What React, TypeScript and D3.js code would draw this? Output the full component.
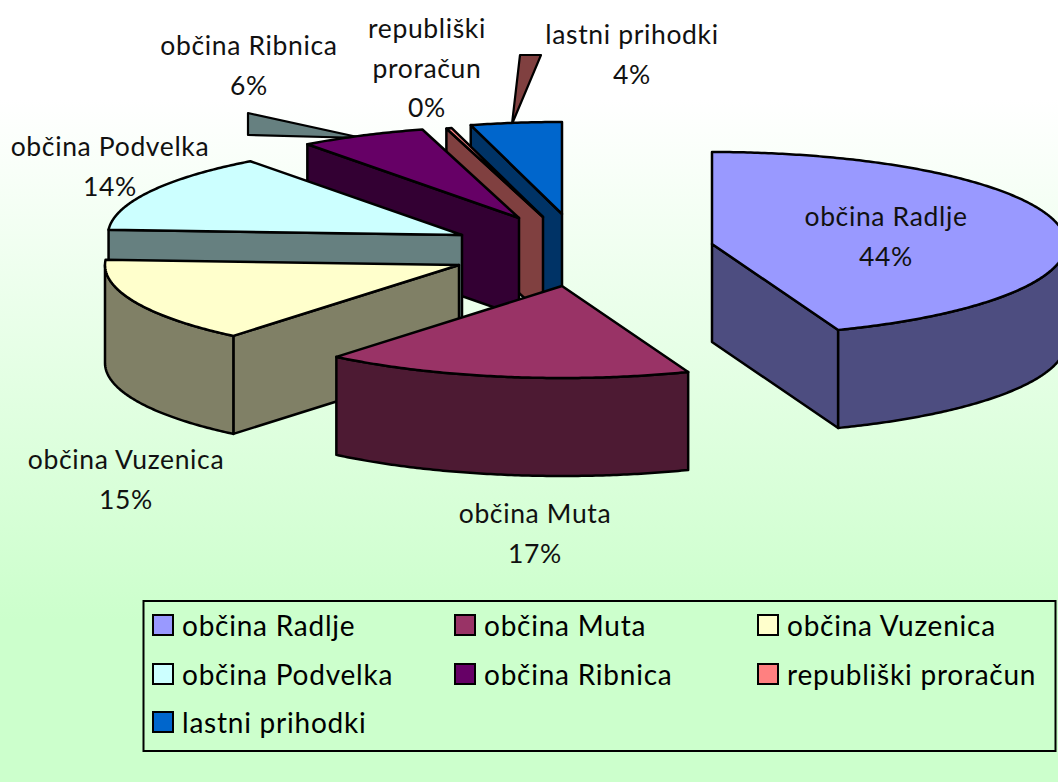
import React from "react";
import * as d3 from "d3";

const categories = ["občina Radlje", "občina Muta", "občina Vuzenica", "občina Podvelka", "občina Ribnica", "republiški proračun", "lastni prihodki"];
const values = [44.2, 16.8, 14.9, 13.9, 5.8, 0.25, 4.15];
const percentLabels = ["44%", "17%", "15%", "14%", "6%", "0%", "4%"];

const topColors = ["#9999ff", "#993366", "#ffffcc", "#ccffff", "#660066", "#ff8080", "#0066cc"];
const wallColors = ["#4d4d80", "#4d1a33", "#808066", "#668080", "#330033", "#804040", "#003366"];

// layout only
const W = 1058, H = 782;
const RX = 354, RY = 92, DEPTH = 98;
const centers: [number, number][] = [[712, 244], [562, 286], [459, 265], [462, 235], [519, 218], [543, 217], [562, 214]];
const labelAnchors: [number, number][] = [[886, 226], [535, 523], [126, 469], [110, 156], [249, 55], [427, 38], [632, 44]];
const labelBreaks: Record<string, string[]> = { "republiški proračun": ["republiški", "proračun"] };
const FONT = "Lato, 'Open Sans', sans-serif";

const pie = d3.pie<number>().sort(null).value((d) => d)(values);

type Pt = [number, number];

function rimScale(i: number) {
  const [cx, cy] = centers[i];
  const x = d3.scaleLinear().domain([-1, 1]).range([cx - RX, cx + RX]);
  const y = d3.scaleLinear().domain([-1, 1]).range([cy - RY, cy + RY]);
  return (a: number): Pt => [x(Math.sin(a)), y(-Math.cos(a))];
}
const lineGen = d3.line<Pt>().x((d) => d[0]).y((d) => d[1]);
const closed = (pts: Pt[]) => lineGen(pts) + "Z";
const down = (p: Pt): Pt => [p[0], p[1] + DEPTH];
const arcPts = (i: number, a: number, b: number): Pt[] => {
  const rim = rimScale(i);
  const n = Math.max(2, Math.ceil(Math.abs(b - a) / 0.01));
  return d3.range(n + 1).map((k) => rim(a + ((b - a) * k) / n));
};

function Slice({ i }: { i: number }) {
  const { startAngle: a, endAngle: b } = pie[i];
  const c = centers[i];
  const rim = rimScale(i);
  const wall = wallColors[i];
  const faces: string[] = [];
  if (Math.sin(a) < 0) faces.push(closed([c, rim(a), down(rim(a)), down(c)]));
  if (Math.sin(b) > 0) faces.push(closed([c, rim(b), down(rim(b)), down(c)]));
  const lo = Math.max(a, Math.PI / 2), hi = Math.min(b, (3 * Math.PI) / 2);
  if (hi > lo) {
    const top = arcPts(i, lo, hi);
    faces.push(closed([...top, ...top.map(down).reverse()]));
  }
  return (
    <g stroke="#000" strokeWidth={2.5} strokeLinejoin="round">
      {faces.map((d, k) => <path key={k} d={d} fill={wall} />)}
      <path d={closed([c, ...arcPts(i, a, b)])} fill={topColors[i]} />
    </g>
  );
}

// stray shards that the original renderer left behind the back slices
function Shards() {
  const grey = centers[3];
  const brown = centers[5];
  const g: Pt[] = [[grey[0] - 214, grey[1] - 122], [grey[0] - 214, grey[1] - 100], [grey[0] - 100, grey[1] - 97]];
  const b: Pt[] = [[brown[0] - 31, brown[1] - 93], [brown[0] - 23, brown[1] - 162], [brown[0] - 2, brown[1] - 162]];
  return (
    <g stroke="#000" strokeWidth={2.2} strokeLinejoin="round">
      <path d={closed(g)} fill={wallColors[3]} />
      <path d={closed(b)} fill={wallColors[5]} />
    </g>
  );
}

const legendCols = [153, 455, 758];
const legendRows = [615, 664, 712];

export default function App() {
  return (
    <svg width={W} height={H} viewBox={`0 0 ${W} ${H}`} style={{ position: "absolute", left: 0, top: 0, overflow: "hidden" }} fontFamily={FONT}>
      <defs>
        <linearGradient id="bg" x1="0" y1="0" x2="0" y2={H} gradientUnits="userSpaceOnUse">
          <stop offset={100 / H} stopColor="#ffffff" />
          <stop offset={620 / H} stopColor="#ccffcc" />
        </linearGradient>
      </defs>
      <rect width={W} height={H} fill="url(#bg)" />
      <Shards />
      {[6, 5, 4, 3, 2, 1, 0].map((i) => <Slice key={i} i={i} />)}
      {categories.map((c, i) => {
        const lines = [...(labelBreaks[c] ?? [c]), percentLabels[i]];
        const [x, y] = labelAnchors[i];
        return (
          <g key={c} fontSize={26.5} letterSpacing={0.65} textAnchor="middle" fill="#111">
            {lines.map((t, k) => <text key={k} x={x} y={y + k * 39.5}>{t}</text>)}
          </g>
        );
      })}
      <rect x={143.5} y={601} width={912} height={150} fill="#ccffcc" stroke="#000" strokeWidth={2} />
      {categories.map((c, i) => {
        const x = legendCols[i % 3], y = legendRows[Math.floor(i / 3)];
        return (
          <g key={c}>
            <rect x={x} y={y} width={20} height={20} fill={topColors[i]} stroke="#000" strokeWidth={2} />
            <text x={x + 29} y={y + 21} fontSize={28} letterSpacing={0.77} fill="#000">{c}</text>
          </g>
        );
      })}
    </svg>
  );
}
